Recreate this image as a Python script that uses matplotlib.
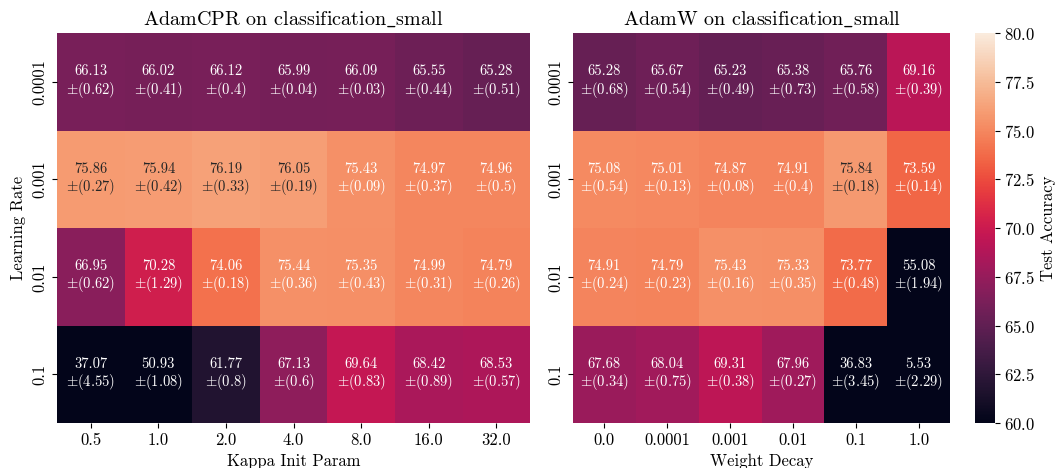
import matplotlib
matplotlib.use("Agg")
import matplotlib.pyplot as plt
import numpy as np
import seaborn as sns

# Computer Modern look for all text
plt.rcParams['font.family'] = ['cmr10', 'DejaVu Serif']
plt.rcParams['mathtext.fontset'] = 'cm'
plt.rcParams['axes.formatter.use_mathtext'] = True
plt.rcParams['axes.unicode_minus'] = False

learning_rates = ['0.0001', '0.001', '0.01', '0.1']
kappa_params = ['0.5', '1.0', '2.0', '4.0', '8.0', '16.0', '32.0']
weight_decays = ['0.0', '0.0001', '0.001', '0.01', '0.1', '1.0']

cpr_mean = [
    [66.13, 66.02, 66.12, 65.99, 66.09, 65.55, 65.28],
    [75.86, 75.94, 76.19, 76.05, 75.43, 74.97, 74.96],
    [66.95, 70.28, 74.06, 75.44, 75.35, 74.99, 74.79],
    [37.07, 50.93, 61.77, 67.13, 69.64, 68.42, 68.53],
]
cpr_std = [
    [0.62, 0.41, 0.4, 0.04, 0.03, 0.44, 0.51],
    [0.27, 0.42, 0.33, 0.19, 0.09, 0.37, 0.5],
    [0.62, 1.29, 0.18, 0.36, 0.43, 0.31, 0.26],
    [4.55, 1.08, 0.8, 0.6, 0.83, 0.89, 0.57],
]

adamw_mean = [
    [65.28, 65.67, 65.23, 65.38, 65.76, 69.16],
    [75.08, 75.01, 74.87, 74.91, 75.84, 73.59],
    [74.91, 74.79, 75.43, 75.33, 73.77, 55.08],
    [67.68, 68.04, 69.31, 67.96, 36.83, 5.53],
]
adamw_std = [
    [0.68, 0.54, 0.49, 0.73, 0.58, 0.39],
    [0.54, 0.13, 0.08, 0.4, 0.18, 0.14],
    [0.24, 0.23, 0.16, 0.35, 0.48, 1.94],
    [0.34, 0.75, 0.38, 0.27, 3.45, 2.29],
]


def cell_labels(mean, std):
    return np.array([[f"{m:.2f}\n$\\pm$({s:g})" for m, s in zip(mr, sr)]
                     for mr, sr in zip(mean, std)])


fig = plt.figure(figsize=(10.57, 4.68), dpi=100)
ax1 = fig.add_axes([0.054, 0.096, 0.4475, 0.833])
ax2 = fig.add_axes([0.542, 0.096, 0.357, 0.833])
cax = fig.add_axes([0.922, 0.096, 0.019, 0.833])

annot_kws = {'fontsize': 10.5, 'linespacing': 1.1}

sns.heatmap(np.array(cpr_mean), annot=cell_labels(cpr_mean, cpr_std), fmt='',
            cmap='rocket', vmin=60, vmax=80, ax=ax1, cbar=False,
            xticklabels=kappa_params, yticklabels=learning_rates,
            annot_kws=annot_kws)
sns.heatmap(np.array(adamw_mean), annot=cell_labels(adamw_mean, adamw_std), fmt='',
            cmap='rocket', vmin=60, vmax=80, ax=ax2, cbar_ax=cax,
            xticklabels=weight_decays, yticklabels=learning_rates,
            annot_kws=annot_kws)

ax1.set_title('AdamCPR on classification$\\_$small', fontsize=14.5)
ax2.set_title('AdamW on classification$\\_$small', fontsize=14.5)
ax1.set_xlabel('Kappa Init Param', fontsize=12)
ax2.set_xlabel('Weight Decay', fontsize=12)
ax1.set_ylabel('Learning Rate', fontsize=12)

for ax in (ax1, ax2):
    ax.tick_params(labelsize=12)
    plt.setp(ax.get_yticklabels(), rotation=90, va='center')
    plt.setp(ax.get_xticklabels(), rotation=0)

cax.set_yticks(np.arange(60, 80.1, 2.5))
cax.tick_params(labelsize=12)
cax.set_ylabel('Test Accuracy', fontsize=12)

fig.savefig('out.png', dpi=100)
